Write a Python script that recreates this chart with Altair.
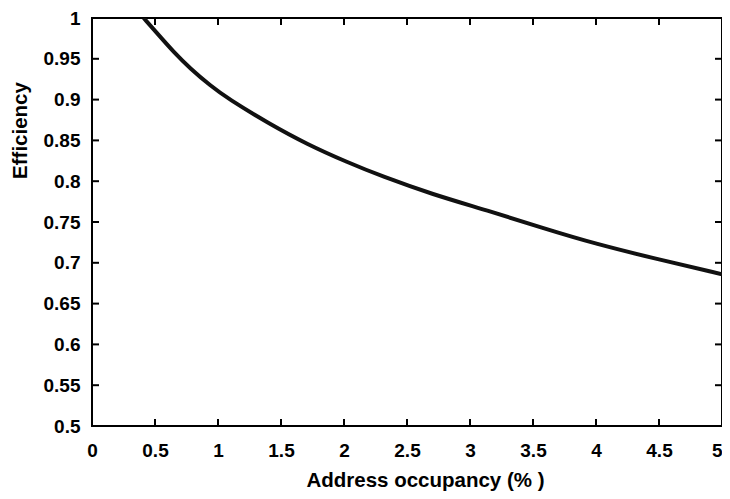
import altair as alt
import pandas as pd

# curve values
occupancy = [0.41, 0.53, 0.65, 0.78, 0.94, 1.08, 1.40, 1.71, 2.03, 2.30, 2.70, 3.14, 3.57, 4.00, 4.50, 5.00]
efficiency = [1.000, 0.979, 0.958, 0.938, 0.917, 0.901, 0.871, 0.845, 0.823, 0.806, 0.784, 0.764, 0.743, 0.723, 0.704, 0.686]

x_ticks = [0, 0.5, 1, 1.5, 2, 2.5, 3, 3.5, 4, 4.5, 5]
y_ticks = [0.5, 0.55, 0.6, 0.65, 0.7, 0.75, 0.8, 0.85, 0.9, 0.95, 1.0]

W, H = 630, 408
TICK = 7
FONT = "Liberation Sans"

curve = pd.DataFrame({"x": occupancy, "y": efficiency})
xt = pd.DataFrame({"t": x_ticks})
yt = pd.DataFrame({"t": y_ticks})

xscale = alt.Scale(domain=[0, 5], nice=False, zero=False)
yscale = alt.Scale(domain=[0.5, 1], nice=False, zero=False)

xaxis = alt.Axis(
    values=x_ticks, format="~g", grid=False, domain=False, ticks=False, tickSize=0,
    labelFont=FONT, labelFontSize=19, labelFontWeight="bold", labelColor="black",
    labelPadding=15, labelFlush=False,
    labelAlign={"condition": {"test": "datum.value >= 5", "value": "right"}, "value": "center"},
    title="Address occupancy (% )", titleFont=FONT, titleFontSize=20.5,
    titleFontWeight="bold", titleColor="black",
    titleX=333, titleY=60, titleBaseline="alphabetic", titleAlign="center",
)
yaxis = alt.Axis(
    values=y_ticks, format="~g", grid=False, domain=False, ticks=False, tickSize=0,
    labelFont=FONT, labelFontSize=19, labelFontWeight="bold", labelColor="black",
    labelPadding=12, labelFlush=False,
    title="Efficiency", titleFont=FONT, titleFontSize=20.5,
    titleFontWeight="bold", titleColor="black",
    titleAngle=270, titleX=-72, titleY=112, titleBaseline="middle", titleAlign="center",
)

line = alt.Chart(curve).mark_line(
    color="#111111", strokeWidth=4, clip=True, interpolate="basis"
).encode(
    x=alt.X("x:Q", scale=xscale, axis=xaxis),
    y=alt.Y("y:Q", scale=yscale, axis=yaxis),
)

bottom_ticks = alt.Chart(xt).mark_rule(color="black", strokeWidth=2).encode(
    x=alt.X("t:Q", scale=xscale), y=alt.value(H), y2=alt.value(H - TICK))
top_ticks = alt.Chart(xt).mark_rule(color="black", strokeWidth=2).encode(
    x=alt.X("t:Q", scale=xscale), y=alt.value(0), y2=alt.value(TICK))
left_ticks = alt.Chart(yt).mark_rule(color="black", strokeWidth=2).encode(
    y=alt.Y("t:Q", scale=yscale), x=alt.value(0), x2=alt.value(TICK))
right_ticks = alt.Chart(yt).mark_rule(color="black", strokeWidth=2).encode(
    y=alt.Y("t:Q", scale=yscale), x=alt.value(W), x2=alt.value(W - TICK))

chart = alt.layer(line, bottom_ticks, top_ticks, left_ticks, right_ticks).properties(
    width=W, height=H,
    autosize=alt.AutoSizeParams(type="none"),
    padding={"left": 84, "top": 10, "right": 0, "bottom": 65},
    background="white",
).configure_view(stroke="black", strokeWidth=2)

chart.save("out.html", embed_options={"renderer": "svg", "actions": False})
